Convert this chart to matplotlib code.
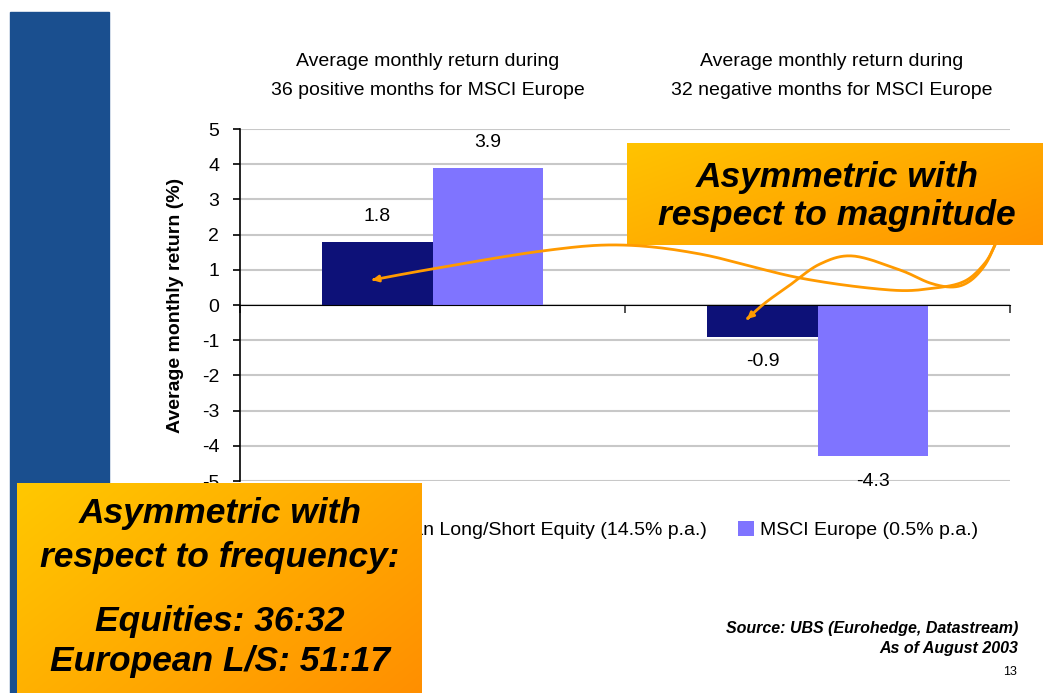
import numpy as np
import matplotlib
matplotlib.use("Agg")
import matplotlib.pyplot as plt
from matplotlib.path import Path
from matplotlib.patches import Rectangle, FancyArrowPatch
from matplotlib.colors import to_rgb

plt.rcParams['font.family'] = ['Liberation Sans', 'DejaVu Sans']
plt.rcParams['axes.unicode_minus'] = False

# data
groups = ["Average monthly return during\n36 positive months for MSCI Europe",
          "Average monthly return during\n32 negative months for MSCI Europe"]
ls_equity = [1.8, -0.9]
msci_europe = [3.9, -4.3]
series_names = ["European Long/Short Equity (14.5% p.a.)", "MSCI Europe (0.5% p.a.)"]
yticks = [-5, -4, -3, -2, -1, 0, 1, 2, 3, 4, 5]

W, H = 1043, 693
fig = plt.figure(figsize=(W / 100, H / 100), dpi=100)
fig.patch.set_facecolor("white")

# main chart
ax = fig.add_axes([240 / W, 1 - 481 / H, 770 / W, 352 / H])
x = np.arange(len(groups))
bw = 0.286
b1 = ax.bar(x - bw / 2, ls_equity, bw, color="#0d1178", label=series_names[0], zorder=3)
b2 = ax.bar(x + bw / 2, msci_europe, bw, color="#7f74ff", label=series_names[1], zorder=3)
for bars in (b1, b2):
    for r in bars:
        v = r.get_height()
        ax.annotate(f"{v:.1f}", (r.get_x() + r.get_width() / 2, v),
                    xytext=(0, 18 if v > 0 else -18), textcoords="offset points",
                    ha="center", va="center", fontsize=14)

ax.set_xlim(-0.5, 1.5)
ax.set_ylim(-5, 5)
ax.set_yticks(yticks)
ax.tick_params(axis="y", labelsize=14, length=5, width=1.2, pad=10)
ax.yaxis.grid(True, color="#c8c8c8", lw=1.5, zorder=0)
ax.set_xticks([-0.5, 0.5, 1.5])
ax.set_xticklabels([])
ax.tick_params(axis="x", length=6, width=1.2, direction="out", color="#333333")
for s in ("top", "right"):
    ax.spines[s].set_visible(False)
ax.spines["bottom"].set_position(("data", 0))
ax.spines["bottom"].set_zorder(4)
ax.spines["left"].set_linewidth(1.2)
ax.set_ylabel("Average monthly return (%)", fontsize=14, fontweight="bold", labelpad=13)

for i, g in enumerate(groups):
    fig.text([428, 832][i] / W, 1 - 76 / H, g, ha="center", va="center",
             fontsize=14, linespacing=1.95)

ax.legend(loc="center", bbox_to_anchor=(0.536, -0.14), ncol=2, frameon=False,
          fontsize=14, handlelength=0.8, handleheight=0.8, handletextpad=0.3,
          columnspacing=1.6)

fig.text(1018 / W, 1 - 628 / H, "Source: UBS (Eurohedge, Datastream)", ha="right",
         va="center", fontsize=11.5, fontweight="bold", style="italic")
fig.text(1018 / W, 1 - 648 / H, "As of August 2003", ha="right",
         va="center", fontsize=11.5, fontweight="bold", style="italic")
fig.text(1017 / W, 1 - 672 / H, "13", ha="right", va="center", fontsize=9)

# overlay in pixel coordinates
ov = fig.add_axes([0, 0, 1, 1], zorder=10)
ov.set_xlim(0, W)
ov.set_ylim(H, 0)
ov.axis("off")
ov.patch.set_alpha(0)

ov.add_patch(Rectangle((10, 12), 99, H - 12, color="#1a4f8f", zorder=1))


def gradient_box(x0, y0, x1, y1, c1, c2):
    nx, ny = 200, 100
    gx, gy = np.meshgrid(np.linspace(0, 1, nx), np.linspace(0, 1, ny))
    t = (gx * 0.6 + gy * 0.4)[..., None]
    img = np.array(to_rgb(c1)) * (1 - t) + np.array(to_rgb(c2)) * t
    ov.imshow(img, extent=(x0, x1, y1, y0), origin="upper", aspect="auto",
              zorder=2, interpolation="bilinear")


gradient_box(17, 483, 422, 693, "#ffc800", "#ff8f00")
gradient_box(627, 143, 1043, 245, "#ffc300", "#ff9400")
ov.set_xlim(0, W)
ov.set_ylim(H, 0)

box_font = dict(fontsize=25.5, fontweight="bold", style="italic", ha="center",
                va="center", zorder=5)
ov.text(220, 514, "Asymmetric with", **box_font)
ov.text(220, 557, "respect to frequency:", **box_font)
ov.text(220, 622, "Equities: 36:32", **box_font)
ov.text(220, 662, "European L/S: 51:17", **box_font)
ov.text(837, 177, "Asymmetric with", **box_font)
ov.text(837, 215, "respect to magnitude", **box_font)


def smooth(pts, n=20):
    pts = np.asarray(pts, float)
    p = np.vstack([pts[0], pts, pts[-1]])
    out = []
    for i in range(1, len(p) - 2):
        p0, p1, p2, p3 = p[i - 1], p[i], p[i + 1], p[i + 2]
        for t in np.linspace(0, 1, n, endpoint=False):
            out.append(0.5 * ((2 * p1) + (-p0 + p2) * t
                              + (2 * p0 - 5 * p1 + 4 * p2 - p3) * t ** 2
                              + (-p0 + 3 * p1 - 3 * p2 + p3) * t ** 3))
    out.append(pts[-1])
    return np.array(out)


curve_a = [(995, 245), (985, 263), (965, 281), (935, 288), (890, 290), (800, 278),
           (700, 254), (620, 245), (542, 251), (432, 269), (372, 280)]
curve_b = [(995, 245), (985, 265), (970, 281), (953, 287), (930, 283), (900, 270),
           (853, 256), (820, 264), (790, 285), (765, 303), (747, 319)]
for c in (curve_a, curve_b):
    pts = smooth(c)
    ov.add_patch(FancyArrowPatch(path=Path(pts), arrowstyle="-|>", mutation_scale=9,
                                 color="#ff9a00", lw=2, zorder=6))

fig.savefig("out.png", dpi=100)
